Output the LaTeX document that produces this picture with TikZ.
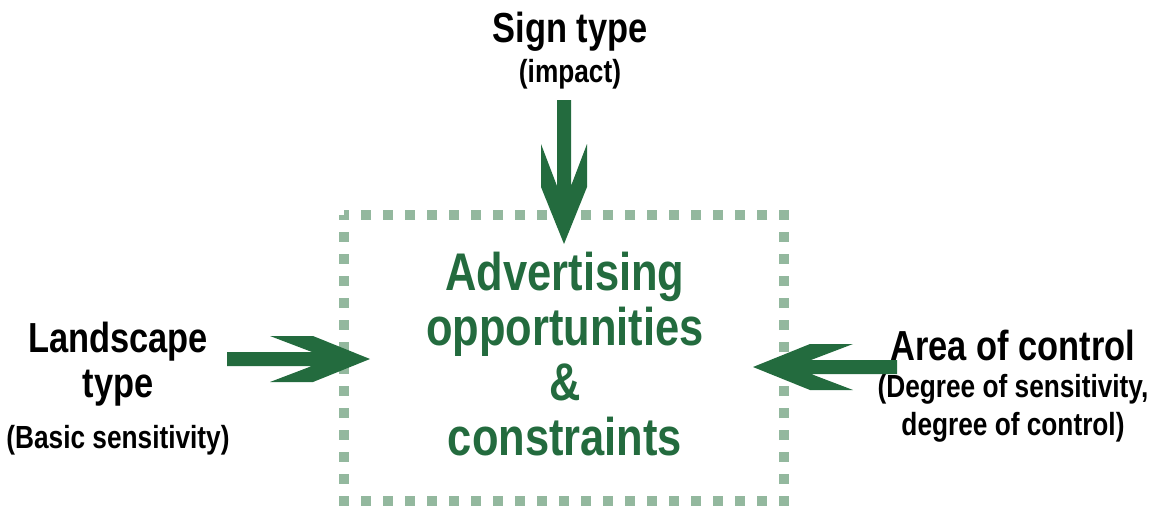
\documentclass[tikz,border=0pt]{standalone}
\usepackage{fontspec}
\setmainfont{Liberation Sans}[FakeStretch=0.82]
\usetikzlibrary{calc}
\definecolor{leaf}{RGB}{35,107,62}
\definecolor{sage}{RGB}{147,184,158}
% fat green arrow with a notched head, from #1 to its tip #2
\newcommand\bigarrow[2]{%
  \path let \p1=($(#2)-(#1)$) in \pgfextra{%
    \pgfmathsetmacro\arrang{atan2(\y1,\x1)}\xdef\arrowang{\arrang}%
    \pgfmathsetmacro\arrlen{veclen(\x1,\y1)}\xdef\arrowlen{\arrlen}};
  \fill[leaf, shift={(#2)}, rotate=\arrowang] (0,0)--(-57,23)--(-100,23)--(-58,7)--(-\arrowlen,7)
    --(-\arrowlen,-7)--(-58,-7)--(-100,-23)--(-57,-23)--cycle;
}
\begin{document}
\begin{tikzpicture}[x=1pt, y=-1pt,
  head/.style={font=\bfseries\fontsize{42}{45}\selectfont, inner sep=0pt},
  sub/.style={font=\bfseries\fontsize{32}{38}\selectfont, inner sep=0pt},
  middle/.style={font=\bfseries\fontsize{53}{55}\selectfont, text=leaf, inner sep=0pt}]
\useasboundingbox (0,0) rectangle (1153,506);

% dotted frame
\draw[sage, line width=10pt, dash pattern=on 10pt off 12pt, dash phase=5pt] (344,215) rectangle (784,501);

% anchor=base of a multi-line node sits on its last line
\node[middle, align=center, anchor=base] (centre) at (565,455) {Advertising\\opportunities\\\&\\constraints};

\node[head, anchor=base] (sign) at (570,42) {Sign type};
\node[sub, anchor=base] (impact) at (570,82) {(impact)};
\node[head, align=center, anchor=base] (land) at (118,397) {Landscape\\type};
\node[sub, anchor=base] (landsub) at (118,448) {(Basic sensitivity)};
\node[head, anchor=base] (area) at (1013,360) {Area of control};
\node[sub, align=center, anchor=base] (areasub) at (1013,435) {(Degree of sensitivity,\\degree of control)};

\coordinate (signtail) at (564,100);
\coordinate (signtip) at (564,244);
\coordinate (landtail) at (227,359);
\coordinate (landtip) at (370,359);
\coordinate (areatail) at (897,367);
\coordinate (areatip) at (753,367);
\bigarrow{signtail}{signtip}
\bigarrow{landtail}{landtip}
\bigarrow{areatail}{areatip}
\end{tikzpicture}
\end{document}
